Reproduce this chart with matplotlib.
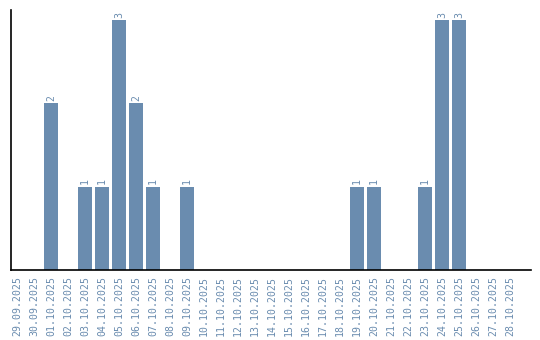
import matplotlib
matplotlib.use("Agg")
import matplotlib.pyplot as plt

dates = ["29.09.2025", "30.09.2025", "01.10.2025", "02.10.2025", "03.10.2025",
         "04.10.2025", "05.10.2025", "06.10.2025", "07.10.2025", "08.10.2025",
         "09.10.2025", "10.10.2025", "11.10.2025", "12.10.2025", "13.10.2025",
         "14.10.2025", "15.10.2025", "16.10.2025", "17.10.2025", "18.10.2025",
         "19.10.2025", "20.10.2025", "21.10.2025", "22.10.2025", "23.10.2025",
         "24.10.2025", "25.10.2025", "26.10.2025", "27.10.2025", "28.10.2025"]
counts = [0, 0, 2, 0, 1, 1, 3, 2, 1, 0,
          1, 0, 0, 0, 0, 0, 0, 0, 0, 0,
          1, 1, 0, 0, 1, 3, 3, 0, 0, 0]

color = "#6a8caf"
font = "DejaVu Sans Mono"
fig = plt.figure(figsize=(5.4, 3.4), dpi=100)
ax = fig.add_axes([11/540, 70/340, 520/540, 260/340])
x = list(range(len(dates)))
ax.bar(x, counts, width=0.82, color=color)
for xi, c in zip(x, counts):
    if c > 0:
        ax.text(xi, c + 0.03, str(c), rotation=90, ha="center", va="bottom",
                fontsize=7.1, color=color, family=font, fontweight="light")
ax.set_xlim(-0.35, 30.24)
ax.set_ylim(0, 3.12)
ax.set_xticks(x)
ax.set_xticklabels(dates, rotation=90, fontsize=7.1, color=color, family=font)
ax.tick_params(axis="x", length=0, pad=4)
ax.set_yticks([])
for s in ["top", "right"]:
    ax.spines[s].set_visible(False)
for s in ["left", "bottom"]:
    ax.spines[s].set_color("black")
    ax.spines[s].set_linewidth(1.2)
fig.savefig("out.png", dpi=100)
